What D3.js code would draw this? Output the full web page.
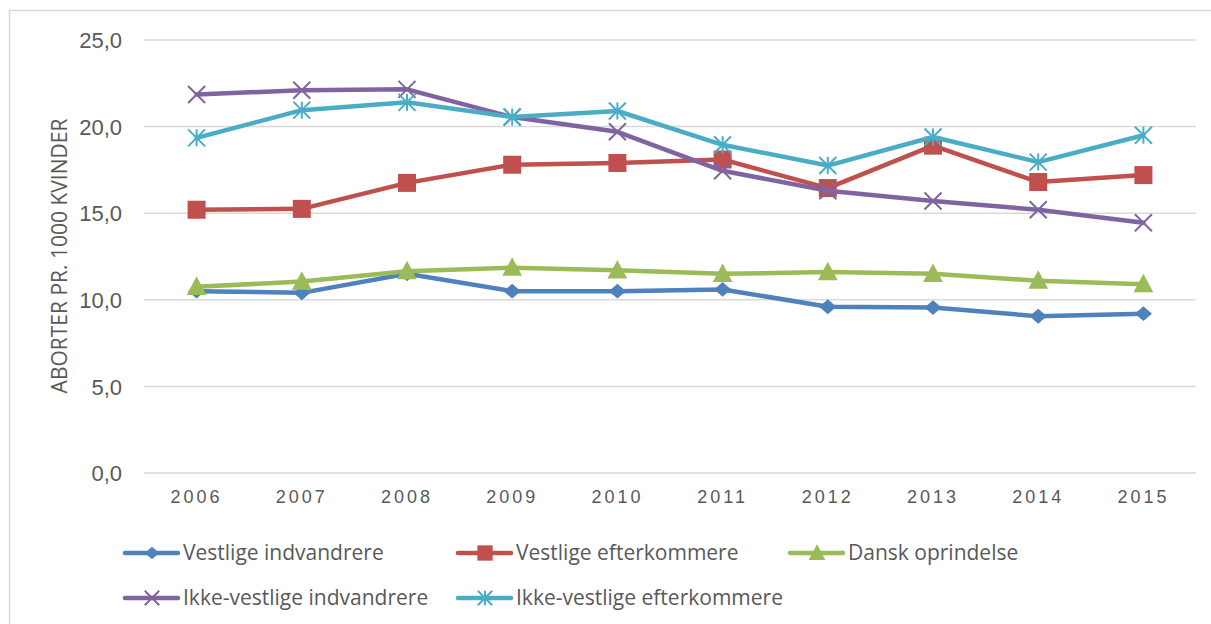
<!DOCTYPE html>
<html lang="da">
<head>
<meta charset="UTF-8">
<title>Aborter pr. 1000 kvinder</title>
<script src="https://d3js.org/d3.v7.min.js"></script>
<style>
    body { margin: 0; background: #fff; font-family: "Open Sans", "Liberation Sans", sans-serif; }
    .grid line { stroke: #d9d9d9; stroke-width: 1.5px; }
    .axis text { fill: #595959; }
    .series path.line { fill: none; stroke-width: 4.5px; stroke-linejoin: round; stroke-linecap: round; }
</style>
</head>
<body>
<div id="chart"></div>
<script>
// data
const years = ["2006", "2007", "2008", "2009", "2010", "2011", "2012", "2013", "2014", "2015"];
const yTicks = [0, 5, 10, 15, 20, 25];

const vestligeIndv = [10.5, 10.4, 11.5, 10.5, 10.5, 10.6, 9.6, 9.55, 9.05, 9.2];
const vestligeEfter = [15.2, 15.25, 16.75, 17.8, 17.9, 18.1, 16.45, 18.9, 16.8, 17.2];
const danskOprindelse = [10.75, 11.05, 11.65, 11.85, 11.7, 11.5, 11.6, 11.5, 11.1, 10.9];
const ikkeVestligeIndv = [21.85, 22.1, 22.15, 20.55, 19.7, 17.45, 16.3, 15.7, 15.2, 14.45];
const ikkeVestligeEfter = [19.35, 20.95, 21.4, 20.55, 20.9, 18.95, 17.75, 19.4, 17.95, 19.5];

const seriesNames = ["Vestlige indvandrere", "Vestlige efterkommere", "Dansk oprindelse",
                     "Ikke-vestlige indvandrere", "Ikke-vestlige efterkommere"];
const seriesValues = [vestligeIndv, vestligeEfter, danskOprindelse, ikkeVestligeIndv, ikkeVestligeEfter];
const colors = ["#4f81bd", "#c0504d", "#9bbb59", "#8064a2", "#4bacc6"];
const markers = ["diamond", "square", "triangle", "x", "asterisk"];

const series = seriesNames.map((name, i) => ({
    name: name, color: colors[i], marker: markers[i],
    values: years.map((y, j) => ({ year: y, value: seriesValues[i][j] }))
}));

const width = 1211, height = 624;
const plot = { left: 144, right: 1196, top: 40, bottom: 473 };

const svg = d3.select("#chart").append("svg")
    .attr("width", width)
    .attr("height", height);

// chart frame
svg.append("rect")
    .attr("x", 9.5).attr("y", 10.5)
    .attr("width", 1230).attr("height", 640)
    .attr("fill", "none")
    .attr("stroke", "#d9d9d9")
    .attr("stroke-width", 1.5);

const x = d3.scaleBand().domain(years).range([plot.left, plot.right]);
const y = d3.scaleLinear().domain([0, 25]).range([plot.bottom, plot.top]);
const fmt = v => d3.format(".1f")(v).replace(".", ",");

// gridlines
svg.append("g").attr("class", "grid")
    .selectAll("line").data(yTicks).enter().append("line")
    .attr("x1", plot.left).attr("x2", plot.right)
    .attr("y1", d => y(d)).attr("y2", d => y(d));

// y axis
const yAxis = svg.append("g").attr("class", "axis")
    .attr("transform", `translate(${plot.left - 22},0)`)
    .call(d3.axisLeft(y).tickValues(yTicks).tickFormat(fmt).tickSize(0).tickPadding(0));
yAxis.select(".domain").remove();
yAxis.selectAll("text").style("font-size", "22px").attr("dy", "0.35em");

// x axis
const xAxis = svg.append("g").attr("class", "axis")
    .attr("transform", `translate(0,${plot.bottom})`)
    .call(d3.axisBottom(x).tickSize(0).tickPadding(17));
xAxis.select(".domain").remove();
xAxis.selectAll("text").style("font-size", "18px").style("letter-spacing", "3px");

// y title
svg.append("text")
    .attr("transform", "translate(67,256) rotate(-90)")
    .attr("text-anchor", "middle")
    .style("font-size", "21px")
    .style("fill", "#595959")
    .text("ABORTER PR. 1000 KVINDER");

const line = d3.line()
    .x(d => x(d.year) + x.bandwidth() / 2)
    .y(d => y(d.value));

function drawMarker(g, type, color, s) {
    if (type === "diamond") {
        g.append("path").attr("d", d3.symbol(d3.symbolDiamond2, s * s * 0.55)())
            .attr("fill", color).attr("transform", "scale(1.15,1)");
    } else if (type === "square") {
        g.append("rect").attr("x", -s / 2).attr("y", -s / 2).attr("width", s).attr("height", s)
            .attr("fill", color);
    } else if (type === "triangle") {
        const h = s;
        g.append("path").attr("d", `M0,${-h * 0.58}L${h * 0.55},${h * 0.45}L${-h * 0.55},${h * 0.45}Z`)
            .attr("fill", color);
    } else if (type === "x") {
        const r = s / 2;
        g.append("path").attr("d", `M${-r},${-r}L${r},${r}M${-r},${r}L${r},${-r}`)
            .attr("stroke", color).attr("stroke-width", 2);
    } else if (type === "asterisk") {
        const r = s / 2;
        g.append("path").attr("d", `M${-r},${-r}L${r},${r}M${-r},${r}L${r},${-r}M0,${-r}L0,${r}`)
            .attr("stroke", color).attr("stroke-width", 2);
    }
}

const sizes = { diamond: 16, square: 18, triangle: 18, x: 17, asterisk: 17 };

const gSeries = svg.selectAll(".series").data(series).enter().append("g").attr("class", "series");
gSeries.append("path").attr("class", "line")
    .attr("stroke", d => d.color)
    .attr("d", d => line(d.values));
gSeries.each(function (s) {
    d3.select(this).selectAll(".pt").data(s.values).enter().append("g")
        .attr("class", "pt")
        .attr("transform", d => `translate(${x(d.year) + x.bandwidth() / 2},${y(d.value)})`)
        .each(function () { drawMarker(d3.select(this), s.marker, s.color, sizes[s.marker]); });
});

// legend
const legendPos = [[125, 553], [458, 553], [790, 553], [125, 598], [458, 598]];
const legend = svg.selectAll(".legend").data(series).enter().append("g")
    .attr("class", "legend")
    .attr("transform", (d, i) => `translate(${legendPos[i][0]},${legendPos[i][1]})`);
legend.append("line")
    .attr("x1", 0).attr("x2", 53).attr("y1", 0).attr("y2", 0)
    .attr("stroke", d => d.color).attr("stroke-width", 4.5).attr("stroke-linecap", "round");
legend.append("g").attr("transform", "translate(27,0)")
    .each(function (d) { drawMarker(d3.select(this), d.marker, d.color, sizes[d.marker] * 0.85); });
legend.append("text")
    .attr("x", 58).attr("dy", "0.35em")
    .style("font-size", "21px").style("fill", "#595959")
    .text(d => d.name);
</script>
</body>
</html>
